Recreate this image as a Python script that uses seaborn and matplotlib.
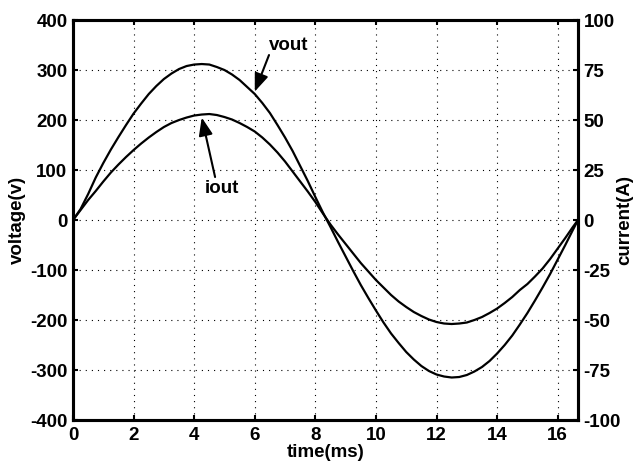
import matplotlib

matplotlib.use("Agg")
import matplotlib.pyplot as plt
import pandas as pd
import seaborn as sns

# values (time in ms, voltage in V, current in A)
time_ms = [0, 0.25, 0.5, 0.75, 1, 1.25, 1.5, 1.75, 2, 2.25, 2.5, 2.75, 3, 3.25,
           3.5, 3.75, 4, 4.25, 4.5, 4.75, 5, 5.25, 5.5, 5.75, 6, 6.25, 6.5, 6.75,
           7, 7.25, 7.5, 7.75, 8, 8.25, 8.5, 8.75, 9, 9.25, 9.5, 9.75, 10, 10.25,
           10.5, 10.75, 11, 11.25, 11.5, 11.75, 12, 12.25, 12.5, 12.75, 13, 13.25,
           13.5, 13.75, 14, 14.25, 14.5, 14.75, 15, 15.25, 15.5, 15.75, 16, 16.25,
           16.5, 16.67]
vout = [0, 22, 52, 85, 114, 141, 166, 190, 213, 233, 252, 268, 282, 293, 302,
        308, 311, 312, 311, 306, 300, 291, 280, 266, 252, 234, 214, 190, 165, 138,
        108, 78, 46, 15, -14, -44, -73, -102, -130, -156, -181, -205, -227, -246,
        -264, -279, -292, -302, -309, -313, -315, -314, -310, -303, -294, -282,
        -267, -250, -231, -209, -186, -161, -135, -108, -79, -50, -20, 0]
iout = [0, 5.0, 10.0, 14.5, 19.25, 23.75, 27.75, 31.5, 35.0, 38.25, 41.25, 44.0,
        46.5, 48.5, 50.0, 51.25, 52.25, 52.75, 53.0, 52.5, 51.5, 50.25, 48.5, 46.5,
        44.25, 41.25, 37.75, 33.75, 29.25, 24.25, 19.25, 14.25, 9.0, 3.25, -2.25,
        -7.25, -12.0, -16.75, -21.5, -25.75, -30.0, -33.75, -37.5, -40.75, -43.5,
        -46.0, -48.0, -49.75, -51.0, -51.75, -52.0, -51.75, -51.25, -50.0, -48.5,
        -46.5, -44.25, -41.5, -38.5, -35.0, -32.0, -28.25, -24.25, -19.5, -14.25,
        -9.0, -3.5, 0]

x_ticks = [0, 2, 4, 6, 8, 10, 12, 14, 16]
v_ticks = [-400, -300, -200, -100, 0, 100, 200, 300, 400]
i_ticks = [-100, -75, -50, -25, 0, 25, 50, 75, 100]

sns.set_style("ticks")
plt.rcParams["font.family"] = ["Liberation Sans", "DejaVu Sans"]
plt.rcParams["font.weight"] = "bold"
plt.rcParams["axes.labelweight"] = "bold"
plt.rcParams["axes.unicode_minus"] = False
plt.rcParams["text.color"] = "black"
plt.rcParams["axes.labelcolor"] = "black"
plt.rcParams["xtick.color"] = "black"
plt.rcParams["ytick.color"] = "black"

df = pd.DataFrame({"t": time_ms, "vout": vout, "iout": iout})

fig = plt.figure(figsize=(6.36, 4.66), dpi=100)
ax = fig.add_axes([0.1148, 0.0987, 0.794, 0.8583])
ax2 = ax.twinx()

sns.lineplot(data=df, x="t", y="vout", ax=ax, color="black", lw=1.6, estimator=None, sort=False)
sns.lineplot(data=df, x="t", y="iout", ax=ax2, color="black", lw=1.6, estimator=None, sort=False)

fs = 13.5
ax.set_xlim(0, 16.67)
ax.set_ylim(-400, 400)
ax2.set_ylim(-100, 100)
ax.set_xticks(x_ticks)
ax.set_yticks(v_ticks)
ax2.set_yticks(i_ticks)

ax.grid(True, color="black", linestyle=(0, (1, 4.5)), lw=0.8)
ax.set_axisbelow(True)

ax.tick_params(axis="both", direction="in", length=3.5, width=1.5, colors="black",
               labelsize=fs, top=True, right=False, pad=4)
ax.tick_params(axis="x", pad=5)
ax2.tick_params(axis="y", direction="in", length=3.5, width=1.5, colors="black",
                labelsize=fs, pad=4)
for a in (ax, ax2):
    for s in a.spines.values():
        s.set_color("black")
        s.set_linewidth(2.2)

ax.set_xlabel("time(ms)", fontsize=fs, fontweight="bold", labelpad=0)
ax.set_ylabel("voltage(v)", fontsize=fs, fontweight="bold", labelpad=3)
ax2.set_ylabel("current(A)", fontsize=fs, fontweight="bold")
ax2.yaxis.set_label_coords(1.075, 0.5)

arrow = dict(arrowstyle="-|>,head_length=0.9,head_width=0.35", color="black", lw=1.5,
             mutation_scale=12, shrinkA=0, shrinkB=0)
ax.annotate("", xy=(6.0, 257), xytext=(6.47, 330), arrowprops=arrow)
ax.text(7.11, 350, "vout", fontsize=fs, fontweight="bold", ha="center", va="center")
ax.annotate("", xy=(4.25, 205), xytext=(4.69, 86), arrowprops=arrow)
ax.text(4.9, 63, "iout", fontsize=fs, fontweight="bold", ha="center", va="center")

plt.savefig("out.png", dpi=100, facecolor="white")
plt.close()
